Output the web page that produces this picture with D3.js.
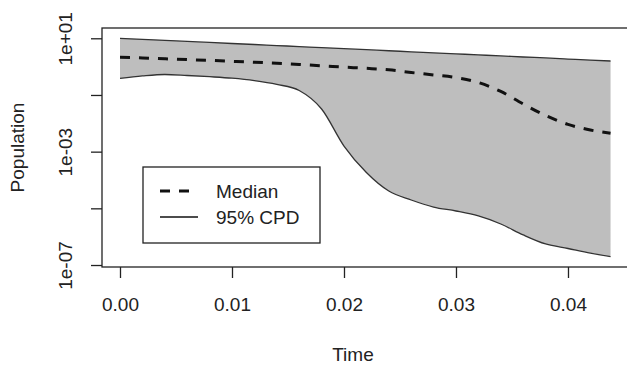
<!DOCTYPE html>
<html>
<head>
<meta charset="utf-8">
<script src="https://cdn.jsdelivr.net/npm/d3@7"></script>
<style>
  html, body { margin: 0; padding: 0; background: #fff; }
  svg { display: block; }
  text { font-family: "Liberation Sans", Arial, sans-serif; fill: #222; }
</style>
</head>
<body>
<svg id="chart" width="627" height="365"></svg>
<script>
// ---- data ----
const time = [0, 0.002, 0.004, 0.006, 0.008, 0.010, 0.012, 0.014, 0.016, 0.018, 0.020,
              0.022, 0.024, 0.026, 0.028, 0.030, 0.032, 0.034, 0.036, 0.038, 0.040, 0.042, 0.0438];
const upper = [10.0, 9.19, 8.45, 7.77, 7.14, 6.56, 6.03, 5.54, 5.10, 4.69, 4.31,
               3.96, 3.64, 3.34, 3.07, 2.82, 2.60, 2.39, 2.19, 2.02, 1.85, 1.70, 1.58];
const median = [2.14, 2.03, 1.89, 1.77, 1.66, 1.54, 1.43, 1.31, 1.19, 1.07, 0.96,
                0.87, 0.77, 0.62, 0.51, 0.41, 0.275, 0.133, 0.048, 0.0189, 0.00916, 0.0058, 0.00445];
const lower = [0.382, 0.468, 0.528, 0.487, 0.441, 0.391, 0.321, 0.236, 0.144, 0.032, 0.00158,
               1.84e-4, 4.09e-5, 1.97e-5, 1.11e-5, 8.05e-6, 5.37e-6, 2.8e-6, 1.15e-6, 5.52e-7, 3.83e-7, 2.65e-7, 1.97e-7];
const xTicks = [0, 0.01, 0.02, 0.03, 0.04];
const xTickLabels = ["0.00", "0.01", "0.02", "0.03", "0.04"];
const yTicks = [1e1, 1e-1, 1e-3, 1e-5, 1e-7];
const yTickLabels = ["1e+01", "", "1e-03", "", "1e-07"];
const legendLabels = ["Median", "95% CPD"];

// ---- layout ----
const plot = { left: 102, right: 640, top: 28, bottom: 267 };
const svg = d3.select("#chart");

const x = d3.scaleLinear().domain([-0.001607, 0.04643]).range([plot.left, plot.right]);
const y = d3.scaleLog().domain([Math.pow(10, -7.07), Math.pow(10, 1.363)]).range([plot.bottom, plot.top]);

const pts = time.map((t, i) => ({ t, u: upper[i], m: median[i], l: lower[i] }));
const curve = d3.curveMonotoneX;

// shaded band
svg.append("path")
  .datum(pts)
  .attr("fill", "#bebebe")
  .attr("stroke", "none")
  .attr("d", d3.area().curve(curve).x(d => x(d.t)).y0(d => y(d.l)).y1(d => y(d.u)));

// bound lines
["u", "l"].forEach(k => {
  svg.append("path")
    .datum(pts)
    .attr("fill", "none")
    .attr("stroke", "#333")
    .attr("stroke-width", 1.3)
    .attr("d", d3.line().curve(curve).x(d => x(d.t)).y(d => y(d[k])));
});

// median
svg.append("path")
  .datum(pts)
  .attr("fill", "none")
  .attr("stroke", "#111")
  .attr("stroke-width", 3)
  .attr("stroke-dasharray", "10,9")
  .attr("d", d3.line().curve(curve).x(d => x(d.t)).y(d => y(d.m)));

// plot box
svg.append("rect")
  .attr("x", plot.left).attr("y", plot.top)
  .attr("width", plot.right - plot.left).attr("height", plot.bottom - plot.top)
  .attr("fill", "none").attr("stroke", "#222").attr("stroke-width", 1.3);

// x axis
const xAxis = d3.axisBottom(x).tickValues(xTicks).tickSize(11).tickPadding(20)
  .tickFormat((d, i) => xTickLabels[i]);
const gx = svg.append("g").attr("transform", `translate(0,${plot.bottom})`).call(xAxis);
gx.select(".domain").remove();
gx.selectAll(".tick line").attr("stroke", "#222").attr("stroke-width", 1.3);
gx.selectAll(".tick text").attr("font-size", 19).attr("fill", "#222")
  .attr("font-family", "Liberation Sans, Arial, sans-serif");

// y axis
const yAxis = d3.axisLeft(y).tickValues(yTicks).tickSize(11).tickPadding(0)
  .tickFormat((d, i) => yTickLabels[i]);
const gy = svg.append("g").attr("transform", `translate(${plot.left},0)`).call(yAxis);
gy.select(".domain").remove();
gy.selectAll(".tick line").attr("stroke", "#222").attr("stroke-width", 1.3);
gy.selectAll(".tick text")
  .attr("font-size", 19).attr("fill", "#222")
  .attr("font-family", "Liberation Sans, Arial, sans-serif")
  .attr("text-anchor", "middle")
  .attr("x", 0).attr("dy", 0)
  .attr("transform", "translate(-30,0) rotate(-90)");

// axis titles
svg.append("text").attr("x", (x(0) + x(0.04)) / 2 + 9).attr("y", 361)
  .attr("text-anchor", "middle").attr("font-size", 19).text("Time");
svg.append("text").attr("transform", `translate(24,${(plot.top + plot.bottom) / 2}) rotate(-90)`)
  .attr("text-anchor", "middle").attr("font-size", 19).text("Population");

// legend
const lg = svg.append("g");
lg.append("rect").attr("x", 143).attr("y", 167).attr("width", 177).attr("height", 76)
  .attr("fill", "#fff").attr("stroke", "#222").attr("stroke-width", 1.3);
const rows = [
  { label: legendLabels[0], dash: "10,9", w: 3, cy: 191 },
  { label: legendLabels[1], dash: null, w: 1.3, cy: 217 }
];
rows.forEach(r => {
  lg.append("line").attr("x1", 160).attr("x2", 198).attr("y1", r.cy).attr("y2", r.cy)
    .attr("stroke", "#111").attr("stroke-width", r.w)
    .attr("stroke-dasharray", r.dash);
  lg.append("text").attr("x", 216).attr("y", r.cy).attr("dy", "0.35em")
    .attr("font-size", 19).text(r.label);
});
</script>
</body>
</html>
